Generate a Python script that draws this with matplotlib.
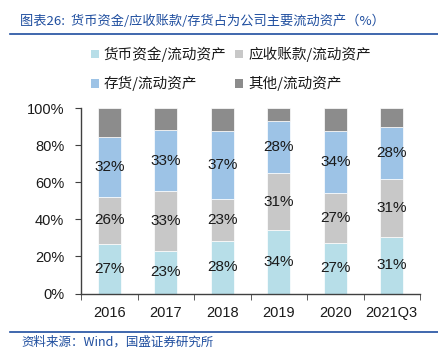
import matplotlib
matplotlib.use("Agg")
import matplotlib.pyplot as plt
from matplotlib.patches import Patch
from matplotlib.lines import Line2D
import numpy as np

plt.rcParams['font.family'] = ['Noto Sans CJK SC', 'DejaVu Sans']

categories = ['2016', '2017', '2018', '2019', '2020', '2021Q3']
cash = [26.6, 22.8, 28.2, 34.2, 27.3, 30.7]
receivable = [25.7, 32.6, 22.9, 30.9, 27.0, 31.0]
inventory = [32.1, 32.8, 36.7, 28.1, 33.6, 28.3]
other = [15.6, 11.8, 12.2, 6.8, 12.1, 10.0]

series_names = ['货币资金/流动资产', '应收账款/流动资产', '存货/流动资产', '其他/流动资产']
colors = ['#B7DEE8', '#C8C8C8', '#9DC3E6', '#8C8C8C']
series = [cash, receivable, inventory, other]
show_labels = [True, True, True, False]

NUMFONT = ['Liberation Sans', 'DejaVu Sans']

W, H = 438, 357
fig = plt.figure(figsize=(W / 100, H / 100), dpi=100)
ax = fig.add_axes([81 / W, 1 - 293.5 / H, (420 - 81) / W, (293.5 - 108.3) / H])

x = np.arange(len(categories))
bottom = np.zeros(len(categories))
handles = []
for vals, col, name, lab in zip(series, colors, series_names, show_labels):
    v = np.array(vals)
    ax.bar(x, v, 0.41, bottom=bottom, color=col, edgecolor='white', linewidth=0.5)
    if lab:
        for xi, b, vi in zip(x, bottom, v):
            ax.text(xi, b + vi / 2, '%.0f%%' % vi, ha='center', va='center',
                    fontsize=11, color='#1a1a1a', family=NUMFONT)
    bottom = bottom + v
    handles.append(Patch(facecolor=col, edgecolor='none', label=name))

ax.set_xlim(-0.5, len(categories) - 0.5)
ax.set_ylim(0, 100)
ax.set_yticks(np.arange(0, 101, 20))
ax.set_yticklabels(['%d%%' % t for t in range(0, 101, 20)], fontsize=10.5, family=NUMFONT,
                   color='#1a1a1a')
ax.set_xticks(x)
ax.set_xticklabels(categories, fontsize=10.5, family=NUMFONT, color='#1a1a1a')
ax.tick_params(axis='x', which='major', length=0, pad=9)
ax.set_xticks(np.arange(-0.5, len(categories), 1), minor=True)
ax.tick_params(axis='x', which='minor', length=4, direction='out', color='#404040')
ax.tick_params(axis='y', length=4, direction='out', color='#404040', pad=8)
for s in ['top', 'right']:
    ax.spines[s].set_visible(False)
for s in ['left', 'bottom']:
    ax.spines[s].set_color('#404040')
    ax.spines[s].set_linewidth(1.0)

order = [0, 2, 1, 3]
leg = fig.legend([handles[i] for i in order], [series_names[i] for i in order],
                 ncol=2, loc='center', bbox_to_anchor=(231 / W, 1 - 69 / H),
                 frameon=False, fontsize=10.5, handlelength=0.55, handleheight=0.55,
                 handletextpad=0.35, columnspacing=0.6, labelspacing=0.95)
for t in leg.get_texts():
    t.set_color('#1a1a1a')

blue = '#1F4E9F'
fig.text(20 / W, 1 - 21 / H, '图表26:  货币资金/应收账款/存货占为公司主要流动资产（%）',
         color=blue, fontsize=9.5, style='italic', va='center', ha='left')
fig.add_artist(Line2D([10 / W, 1.0], [1 - 34 / H, 1 - 34 / H], color=blue, linewidth=1.2))
fig.add_artist(Line2D([10 / W, 1.0], [1 - 332 / H, 1 - 332 / H], color=blue, linewidth=1.2))
fig.text(21 / W, 1 - 342 / H, '资料来源：Wind，国盛证券研究所', color=blue, fontsize=9,
         style='italic', va='center', ha='left')

fig.savefig('out.png', dpi=100)
